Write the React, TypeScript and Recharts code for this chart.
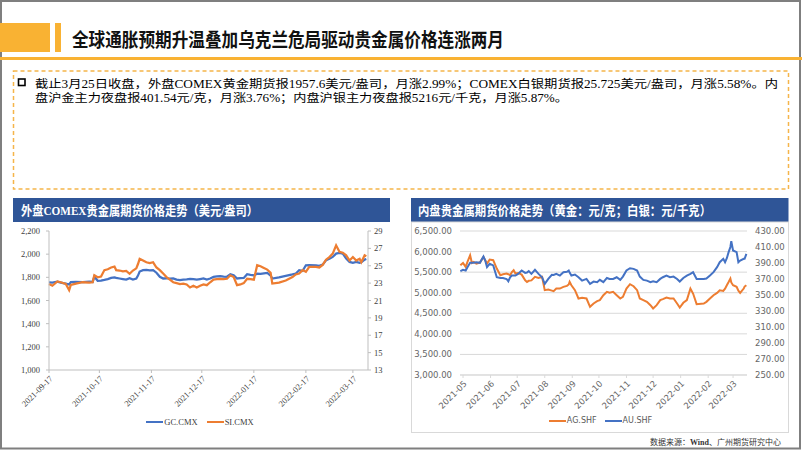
import React from 'react';
import { LineChart, Line, XAxis, YAxis, CartesianGrid, Legend } from 'recharts';

// ---------- COMEX (left chart) ----------
const comexDates = [
  '2021-09-17', '2021-09-19', '2021-09-22', '2021-09-24', '2021-09-27', '2021-09-29', '2021-09-30', '2021-10-03', '2021-10-07', '2021-10-11',
  '2021-10-13', '2021-10-14', '2021-10-16', '2021-10-18', '2021-10-20', '2021-10-22', '2021-10-24', '2021-10-26', '2021-10-27', '2021-10-29',
  '2021-10-31', '2021-11-02', '2021-11-04', '2021-11-06', '2021-11-08', '2021-11-09', '2021-11-10', '2021-11-12', '2021-11-14', '2021-11-16',
  '2021-11-18', '2021-11-20', '2021-11-22', '2021-11-24', '2021-11-26', '2021-11-28', '2021-11-30', '2021-12-02', '2021-12-04', '2021-12-06',
  '2021-12-08', '2021-12-10', '2021-12-12', '2021-12-14', '2021-12-16', '2021-12-18', '2021-12-20', '2021-12-22', '2021-12-24', '2021-12-26',
  '2021-12-28', '2021-12-30', '2022-01-01', '2022-01-03', '2022-01-05', '2022-01-07', '2022-01-09', '2022-01-11', '2022-01-13', '2022-01-15',
  '2022-01-17', '2022-01-19', '2022-01-21', '2022-01-23', '2022-01-25', '2022-01-27', '2022-01-28', '2022-02-01', '2022-02-05', '2022-02-09',
  '2022-02-11', '2022-02-13', '2022-02-15', '2022-02-17', '2022-02-19', '2022-02-23', '2022-02-25', '2022-02-27', '2022-03-01', '2022-03-03',
  '2022-03-05', '2022-03-07', '2022-03-09', '2022-03-11', '2022-03-13', '2022-03-15', '2022-03-17', '2022-03-19', '2022-03-21', '2022-03-22',
  '2022-03-24', '2022-03-25',
];
const gcValues = [
  1757, 1755, 1762, 1755, 1745, 1738, 1758, 1760, 1758, 1762,
  1760, 1805, 1770, 1772, 1778, 1785, 1795, 1800, 1795, 1790,
  1785, 1780, 1793, 1780, 1790, 1815, 1850, 1862, 1865, 1860,
  1862, 1840, 1805, 1790, 1792, 1788, 1790, 1780, 1775, 1780,
  1782, 1786, 1785, 1780, 1785, 1790, 1781, 1790, 1804, 1808,
  1810, 1806, 1805, 1827, 1818, 1790, 1793, 1795, 1827, 1822,
  1818, 1832, 1830, 1835, 1838, 1815, 1790, 1800, 1812, 1825,
  1833, 1861, 1855, 1904, 1905, 1904, 1900, 1910, 1947, 1960,
  1976, 2005, 2010, 2005, 1962, 1933, 1925, 1933, 1925, 1930,
  1953, 1958,
];
const siValues = [
  22.9, 22.7, 23.2, 23.1, 22.9, 22.2, 22.8, 22.95, 23.1, 23.05,
  23.1, 23.9, 23.67, 23.75, 24.5, 24.6, 24.8, 24.9, 24.5, 24.45,
  24.35, 24.4, 24.07, 24.45, 24.7, 25.2, 25.8, 25.6, 25.4, 25.3,
  25.4, 24.8, 24.5, 24.1, 23.7, 23.4, 23.1, 23.0, 22.9, 22.95,
  22.85, 22.5, 22.7, 22.5, 22.7, 22.85, 22.76, 23.1, 23.4, 23.45,
  23.5, 23.45, 23.5, 23.9, 23.7, 22.76, 22.85, 23.0, 23.5, 23.45,
  23.4, 25.06, 24.95, 24.75, 24.56, 24.2, 22.95, 23.05, 23.3, 23.7,
  24.0, 24.1, 24.5, 24.3, 24.87, 24.87, 24.8, 25.1, 25.7, 26.0,
  26.4, 27.35, 26.6, 26.5, 26.2, 25.6, 26.0, 25.6, 25.8, 25.4,
  26.2, 26.1,
];
const comexTickDates = ['2021-09-17', '2021-10-17', '2021-11-17', '2021-12-17', '2022-01-17', '2022-02-17', '2022-03-17'];
const gcTicks = [1000, 1200, 1400, 1600, 1800, 2000, 2200];
const siTicks = [13, 15, 17, 19, 21, 23, 25, 27, 29];

// ---------- SHFE (right chart) ----------
const shfeDates = [
  '2021-04-28', '2021-05-01', '2021-05-04', '2021-05-06', '2021-05-09', '2021-05-11', '2021-05-13', '2021-05-16', '2021-05-20', '2021-05-24',
  '2021-05-26', '2021-05-28', '2021-05-31', '2021-06-04', '2021-06-08', '2021-06-12', '2021-06-15', '2021-06-19', '2021-06-21', '2021-06-23',
  '2021-06-25', '2021-06-27', '2021-06-29', '2021-07-02', '2021-07-06', '2021-07-10', '2021-07-12', '2021-07-14', '2021-07-17', '2021-07-21',
  '2021-07-25', '2021-07-29', '2021-08-01', '2021-08-05', '2021-08-09', '2021-08-11', '2021-08-14', '2021-08-18', '2021-08-22', '2021-08-26',
  '2021-08-28', '2021-08-29', '2021-08-31', '2021-09-04', '2021-09-08', '2021-09-12', '2021-09-17', '2021-09-21', '2021-09-25', '2021-09-29',
  '2021-10-02', '2021-10-06', '2021-10-10', '2021-10-13', '2021-10-17', '2021-10-21', '2021-10-25', '2021-10-28', '2021-11-01', '2021-11-05',
  '2021-11-09', '2021-11-13', '2021-11-16', '2021-11-20', '2021-11-24', '2021-11-28', '2021-12-01', '2021-12-05', '2021-12-09', '2021-12-12',
  '2021-12-16', '2021-12-20', '2021-12-24', '2021-12-28', '2021-12-31', '2022-01-04', '2022-01-08', '2022-01-12', '2022-01-15', '2022-01-19',
  '2022-01-27', '2022-01-30', '2022-02-03', '2022-02-07', '2022-02-11', '2022-02-14', '2022-02-18', '2022-02-20', '2022-02-22', '2022-02-24',
  '2022-02-26', '2022-02-27', '2022-03-01', '2022-03-05', '2022-03-07', '2022-03-09', '2022-03-13', '2022-03-14', '2022-03-16',
];
const agValues = [
  5667, 5724, 5627, 5750, 5910, 5724, 5750, 5708, 5733, 5870,
  5790, 5708, 5805, 5790, 5587, 5425, 5450, 5465, 5450, 5425,
  5500, 5546, 5465, 5480, 5440, 5300, 5263, 5290, 5300, 5385,
  5360, 5385, 5061, 5075, 5050, 5037, 5101, 5101, 5142, 5166,
  5200, 5263, 5180, 5061, 4859, 4875, 4859, 4657, 4738, 4794,
  4819, 4940, 5021, 5000, 5021, 4940, 4859, 4900, 5101, 5207,
  5158, 5061, 4859, 4819, 4778, 4697, 4617, 4697, 4819, 4843,
  4883, 4859, 4859, 4738, 4641, 4755, 4819, 5101, 4980, 4722,
  4738, 4778, 4859, 4940, 4996, 5061, 5045, 5100, 5182, 5260,
  5344, 5250, 5182, 5142, 5050, 4996, 5101, 5150, 5182,
];
const auValues = [
  379.8, 381.5, 380.6, 384.8, 390.2, 390.2, 390.2, 391, 390.2, 398.2,
  393, 384.8, 389, 387, 372.2, 371.3, 371.3, 370, 367.2, 372,
  374.3, 374.3, 374.3, 376.4, 380.6, 377.7, 378, 379.8, 376.4, 381.4,
  376.4, 372.2, 363.9, 370.1, 375.2, 375, 376.4, 374.3, 378.5, 379,
  380.6, 378, 374.3, 375.6, 372.2, 368, 370.1, 363.9, 366.8, 365.9,
  368.9, 366, 371.3, 370, 370, 372.2, 368.9, 373, 380.6, 383.5,
  382.7, 380.6, 373, 368.9, 368, 366, 367.2, 366, 370.1, 372.2,
  374.3, 372.2, 373, 370.1, 366.8, 371.3, 374.3, 376.4, 378.5, 370.1,
  370.1, 370.5, 374.3, 378.5, 384.8, 391, 395.2, 391, 396, 403.6,
  410, 417.4, 405.7, 403.6, 391, 393, 395.2, 395.2, 401.5,
];
const shfeTickMonths = ['2021-05', '2021-06', '2021-07', '2021-08', '2021-09', '2021-10', '2021-11', '2021-12', '2022-01', '2022-02', '2022-03'];
const agTicks = [3000, 3500, 4000, 4500, 5000, 5500, 6000, 6500];
const auTicks = [250, 270, 290, 310, 330, 350, 370, 390, 410, 430];

// ---------- helpers ----------
const toDay = (s: string) => Date.UTC(+s.slice(0, 4), +s.slice(5, 7) - 1, +s.slice(8, 10)) / 86400000;
const comexBase = toDay('2021-09-17');
const shfeBase = toDay('2021-05-01');

const comexData = comexDates.map((d, i) => ({ x: toDay(d) - comexBase, gc: gcValues[i], si: siValues[i] }));
const comexTicks = comexTickDates.map((d) => toDay(d) - comexBase);
const comexTickLabel: Record<number, string> = {};
comexTickDates.forEach((d, i) => { comexTickLabel[comexTicks[i]] = d; });

const shfeData = shfeDates.map((d, i) => ({ x: toDay(d) - shfeBase, ag: agValues[i], au: auValues[i] }));
const shfeTicks = shfeTickMonths.map((m) => toDay(m + '-01') - shfeBase);
const shfeTickLabel: Record<number, string> = {};
shfeTickMonths.forEach((m, i) => { shfeTickLabel[shfeTicks[i]] = m; });

const BLUE = '#4472C4';
const ORANGE_S = '#ED7D31';
const ORANGE = '#F9B233';
const HDR = '#2F5597';

const fmtThousands = (v: number) => v.toLocaleString('en-US');
const fmt2 = (v: number) => v.toLocaleString('en-US', { minimumFractionDigits: 2, maximumFractionDigits: 2 });

function makeLegend(font: string, size: number, color: string, gap: number) {
  return (props: any) => {
    const items = props.payload || [];
    return (
      <div style={{ display: 'flex', justifyContent: 'center', alignItems: 'center', fontFamily: font, fontSize: size, color, lineHeight: '12px', height: 12 }}>
        {items.map((p: any, i: number) => (
          <div key={i} style={{ display: 'flex', alignItems: 'center', marginLeft: i ? gap : 0 }}>
            <div style={{ width: 17, height: 2, background: p.color, marginRight: 1 }} />
            <span>{p.value}</span>
          </div>
        ))}
      </div>
    );
  };
}

const CJK = "'Noto Sans CJK SC'";
const SERIF_CJK = "'Liberation Serif', 'Noto Sans CJK SC'";

function Decor() {
  return (
    <svg width={802} height={451} style={{ position: 'absolute', left: 0, top: 0 }}>
      <rect x={0} y={0} width={802} height={451} fill="#ffffff" />
      <rect x={1} y={1} width={799} height={447.5} fill="none" stroke="#7F7F7F" strokeWidth={2} />
      <rect x={0} y={23} width={50} height={29} fill={ORANGE} />
      <rect x={55} y={23} width={6} height={29} fill={ORANGE} />
      <text x={72} y={47} fontSize={19} fontWeight="bold" fontFamily={CJK} textLength={432} lengthAdjust="spacingAndGlyphs" fill="#111">
        全球通胀预期升温叠加乌克兰危局驱动贵金属价格连涨两月
      </text>
      <rect x={0} y={57} width={802} height={3} fill={ORANGE} />

      <rect x={13.5} y={71} width={775} height={118} fill="none" stroke="#F5B54A" strokeWidth={1.5} strokeDasharray="4 3" />
      <rect x={18.5} y={79} width={6.5} height={6.5} fill="none" stroke="#000" strokeWidth={1.6} />
      <text x={35} y={87.5} fontSize={11.5} fontFamily={SERIF_CJK} textLength={743} lengthAdjust="spacingAndGlyphs" fill="#000">
        截止3月25日收盘，外盘COMEX黄金期货报1957.6美元/盎司，月涨2.99%；COMEX白银期货报25.725美元/盎司，月涨5.58%。内
      </text>
      <text x={35} y={101.5} fontSize={11.5} fontFamily={SERIF_CJK} textLength={533} lengthAdjust="spacingAndGlyphs" fill="#000">
        盘沪金主力夜盘报401.54元/克，月涨3.76%；内盘沪银主力夜盘报5216元/千克，月涨5.87%。
      </text>

      <rect x={13} y={198} width={377} height={24} fill={HDR} />
      <text x={21} y={215} fontSize={13} fontWeight="bold" fontFamily={SERIF_CJK} textLength={237} lengthAdjust="spacingAndGlyphs" fill="#fff">
        外盘COMEX贵金属期货价格走势（美元/盎司）
      </text>

      <rect x={411} y={198} width={377.5} height={24} fill={HDR} />
      <text x={418} y={215} fontSize={13} fontWeight="bold" fontFamily={CJK} textLength={293} lengthAdjust="spacingAndGlyphs" fill="#fff">
        内盘贵金属期货价格走势（黄金：元/克；白银：元/千克）
      </text>
      <rect x={411.5} y={222} width={377} height={210.5} fill="none" stroke="#D9D9D9" strokeWidth={1} />

      <text x={781} y={445} fontSize={8} fontFamily={SERIF_CJK} textAnchor="end" fill="#333">
        数据来源：<tspan fontWeight="bold">Wind</tspan>、广州期货研究中心
      </text>
    </svg>
  );
}

export default function App() {
  const serifTick = { fontSize: 8.5, fill: '#404040', fontFamily: 'Liberation Serif' };
  const sansTick = { fontSize: 8.5, fill: '#666666', fontFamily: 'DejaVu Sans' };
  return (
    <div style={{ position: 'absolute', left: 0, top: 0, width: 802, height: 451, overflow: 'hidden', background: '#fff' }}>
      <Decor />
      <div style={{ position: 'absolute', left: 0, top: 222 }}>
        <LineChart width={400} height={215} data={comexData} margin={{ top: 9, right: 0, bottom: 0, left: 0 }}>
          <XAxis
            dataKey="x"
            type="number"
            domain={[0, 190]}
            ticks={comexTicks}
            interval={0}
            tickFormatter={(v: number) => comexTickLabel[v] ?? ''}
            angle={-45}
            textAnchor="end"
            height={67}
            tick={serifTick}
            tickSize={3}
            tickMargin={2}
            axisLine={{ stroke: '#BFBFBF' }}
            tickLine={{ stroke: '#BFBFBF' }}
          />
          <YAxis
            yAxisId="l"
            domain={[1000, 2200]}
            ticks={gcTicks}
            interval={0}
            tickFormatter={fmtThousands}
            width={49}
            tick={serifTick}
            tickSize={3}
            tickMargin={6}
            axisLine={{ stroke: '#BFBFBF' }}
            tickLine={{ stroke: '#BFBFBF' }}
          />
          <YAxis
            yAxisId="r"
            orientation="right"
            domain={[13, 29]}
            ticks={siTicks}
            interval={0}
            width={32}
            tick={serifTick}
            tickSize={3}
            tickMargin={3}
            axisLine={{ stroke: '#BFBFBF' }}
            tickLine={{ stroke: '#BFBFBF' }}
          />
          <Line yAxisId="l" dataKey="gc" name="GC.CMX" stroke={BLUE} strokeWidth={2.25} dot={false} isAnimationActive={false} />
          <Line yAxisId="r" dataKey="si" name="SI.CMX" stroke={ORANGE_S} strokeWidth={2.25} dot={false} isAnimationActive={false} />
          <Legend
            verticalAlign="middle"
            align="center"
            layout="horizontal"
            wrapperStyle={{ top: 194, left: 0, width: 400 }}
            content={makeLegend('Liberation Serif', 8.5, '#404040', 9)}
          />
        </LineChart>
      </div>

      <div style={{ position: 'absolute', left: 411, top: 222 }}>
        <LineChart width={379} height={210} data={shfeData} margin={{ top: 9, right: 0, bottom: 0, left: 0 }}>
          <CartesianGrid yAxisId="l" vertical={false} stroke="#D9D9D9" />
          <XAxis
            dataKey="x"
            type="number"
            domain={[-3.4, 319.7]}
            ticks={shfeTicks}
            interval={0}
            tickFormatter={(v: number) => shfeTickLabel[v] ?? ''}
            angle={-45}
            textAnchor="end"
            height={57}
            tick={sansTick}
            tickSize={3}
            tickMargin={2}
            axisLine={{ stroke: '#D9D9D9' }}
            tickLine={{ stroke: '#D9D9D9' }}
          />
          <YAxis
            yAxisId="l"
            domain={[3000, 6500]}
            ticks={agTicks}
            interval={0}
            tickFormatter={fmt2}
            width={49}
            tick={sansTick}
            axisLine={false}
            tickLine={false}
            tickSize={0}
            tickMargin={8}
          />
          <YAxis
            yAxisId="r"
            orientation="right"
            domain={[250, 430]}
            ticks={auTicks}
            interval={0}
            tickFormatter={fmt2}
            width={43}
            tick={sansTick}
            axisLine={false}
            tickLine={false}
            tickSize={0}
            tickMargin={8}
          />
          <Line yAxisId="l" dataKey="ag" name="AG.SHF" stroke={ORANGE_S} strokeWidth={2} dot={false} isAnimationActive={false} />
          <Line yAxisId="r" dataKey="au" name="AU.SHF" stroke={BLUE} strokeWidth={2} dot={false} isAnimationActive={false} />
          <Legend
            verticalAlign="middle"
            align="center"
            layout="horizontal"
            wrapperStyle={{ top: 193, left: 0, width: 379 }}
            content={makeLegend('DejaVu Sans', 8, '#595959', 8)}
          />
        </LineChart>
      </div>
    </div>
  );
}
